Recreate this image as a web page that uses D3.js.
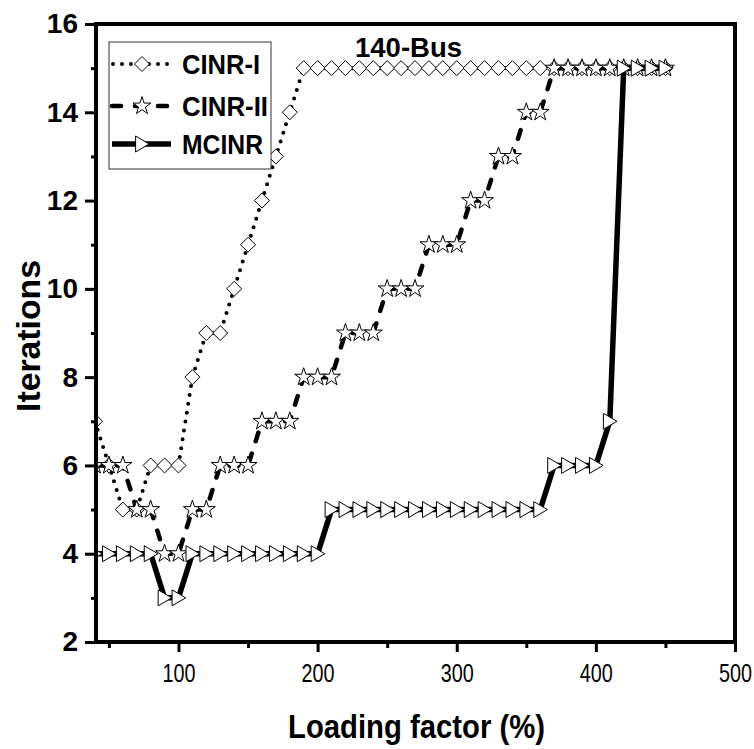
<!DOCTYPE html>
<html lang="en">
<head>
    <meta charset="utf-8">
    <title>140-Bus iterations</title>
    <script type="text/javascript" src="https://d3js.org/d3.v7.min.js"></script>
    <style>
        body { margin: 0; background: white; }
        text { font-family: "Liberation Sans", Arial, sans-serif; }
    </style>
</head>
<body>
    <div id="chart"></div>
    <script type="text/javascript">
        // loading factor (%) values
        const loading = [40, 50, 60, 70, 80, 90, 100, 110, 120, 130, 140, 150, 160, 170, 180, 190, 200,
            210, 220, 230, 240, 250, 260, 270, 280, 290, 300, 310, 320, 330, 340, 350, 360,
            370, 380, 390, 400, 410, 420, 430, 440, 450];
        const cinr1 = [7, 6, 5, 5, 6, 6, 6, 8, 9, 9, 10, 11, 12, 13, 14, 15, 15,
            15, 15, 15, 15, 15, 15, 15, 15, 15, 15, 15, 15, 15, 15, 15, 15,
            15, 15, 15, 15, 15, 15, 15, 15, 15];
        const cinr2 = [6, 6, 6, 5, 5, 4, 4, 5, 5, 6, 6, 6, 7, 7, 7, 8, 8,
            8, 9, 9, 9, 10, 10, 10, 11, 11, 11, 12, 12, 13, 13, 14, 14,
            15, 15, 15, 15, 15, 15, 15, 15, 15];
        const mcinr = [4, 4, 4, 4, 4, 3, 3, 4, 4, 4, 4, 4, 4, 4, 4, 4, 4,
            5, 5, 5, 5, 5, 5, 5, 5, 5, 5, 5, 5, 5, 5, 5, 5,
            6, 6, 6, 6, 7, 15, 15, 15, 15];
        const seriesNames = ["CINR-I", "CINR-II", "MCINR"];
        const xTicks = [100, 200, 300, 400, 500];
        const xMinor = [50, 150, 250, 350, 450];
        const yTicks = [2, 4, 6, 8, 10, 12, 14, 16];
        const yMinor = [3, 5, 7, 9, 11, 13, 15];

        const width = 754, height = 749;
        const mLeft = 96, mRight = 735, mTop = 24, mBottom = 642;

        const svg = d3.select("#chart").append("svg")
            .attr("width", width).attr("height", height);

        const x = d3.scaleLinear().domain([40, 500]).range([mLeft - 1, mRight]);
        const y = d3.scaleLinear().domain([2, 16]).range([mBottom, mTop]);

        svg.append("clipPath").attr("id", "plot-clip")
            .append("rect")
            .attr("x", mLeft).attr("y", mTop - 10)
            .attr("width", mRight - mLeft).attr("height", mBottom - mTop + 10);

        // marker shapes
        const diamond = s => `M0,${-s}L${s},0L0,${s}L${-s},0Z`;
        const tri = s => `M${-s * 0.8},${-s}L${s * 0.9},0L${-s * 0.8},${s}Z`;
        const star = d3.symbol().type(d3.symbolStar).size(100)();

        const styles = [
            { data: cinr1, width: 4, dash: "0,9", cap: "round", marker: diamond(7.5) },
            { data: cinr2, width: 4.5, dash: "9,13", cap: "round", marker: star },
            { data: mcinr, width: 5.5, dash: null, cap: "butt", marker: tri(8) }
        ];

        const plot = svg.append("g").attr("clip-path", "url(#plot-clip)");

        const line = d3.line().x((d, i) => x(loading[i])).y(d => y(d));

        styles.forEach(s => {
            plot.append("path")
                .attr("d", line(s.data))
                .attr("fill", "none")
                .attr("stroke", "black")
                .attr("stroke-width", s.width)
                .attr("stroke-linecap", s.cap)
                .attr("stroke-dasharray", s.dash);
            plot.append("g").selectAll("path")
                .data(s.data)
                .join("path")
                .attr("transform", (d, i) => `translate(${x(loading[i])},${y(d)})`)
                .attr("d", s.marker)
                .attr("fill", "white")
                .attr("stroke", "black")
                .attr("stroke-width", 1);
        });

        // axes
        const xAxis = svg.append("g").attr("transform", `translate(0,${mBottom})`)
            .call(d3.axisBottom(x).tickValues(xTicks).tickSize(10).tickPadding(12));
        svg.append("g").attr("transform", `translate(0,${mBottom})`)
            .call(d3.axisBottom(x).tickValues(xMinor).tickSize(6).tickFormat(""))
            .call(g => g.select(".domain").remove());
        xAxis.select(".domain").remove();
        xAxis.selectAll("text")
            .attr("font-size", 25)
            .attr("textLength", 33).attr("lengthAdjust", "spacingAndGlyphs")
            .attr("font-family", "Liberation Sans, sans-serif");

        const yAxis = svg.append("g").attr("transform", `translate(${mLeft},0)`)
            .call(d3.axisLeft(y).tickValues(yTicks).tickSize(11).tickPadding(7));
        svg.append("g").attr("transform", `translate(${mLeft},0)`)
            .call(d3.axisLeft(y).tickValues(yMinor).tickSize(5).tickFormat(""))
            .call(g => g.select(".domain").remove());
        yAxis.select(".domain").remove();
        yAxis.selectAll("text").attr("font-size", 28).attr("font-weight", "bold")
            .attr("font-family", "Liberation Sans, sans-serif");
        svg.selectAll(".tick line").attr("stroke-width", 3);

        // frame
        svg.append("rect")
            .attr("x", mLeft).attr("y", mTop)
            .attr("width", mRight - mLeft).attr("height", mBottom - mTop)
            .attr("fill", "none").attr("stroke", "black").attr("stroke-width", 4);

        // titles
        svg.append("text")
            .attr("x", 288).attr("y", 738)
            .attr("font-size", 34).attr("font-weight", "bold")
            .attr("textLength", 257).attr("lengthAdjust", "spacingAndGlyphs")
            .text("Loading factor (%)");
        svg.append("text")
            .attr("transform", `translate(40,412) rotate(-90)`)
            .attr("font-size", 34).attr("font-weight", "bold")
            .attr("textLength", 152).attr("lengthAdjust", "spacingAndGlyphs")
            .text("Iterations");
        svg.append("text")
            .attr("x", 355).attr("y", 57)
            .attr("font-size", 28).attr("font-weight", "bold")
            .attr("textLength", 107).attr("lengthAdjust", "spacingAndGlyphs")
            .text("140-Bus");

        // legend
        const legend = svg.append("g");
        legend.append("rect")
            .attr("x", 109).attr("y", 42).attr("width", 162).attr("height", 127)
            .attr("fill", "white").attr("stroke", "#333").attr("stroke-width", 1);
        const rows = [64, 106, 144];
        const legendLen = [78, 86, 81];
        styles.forEach((s, i) => {
            const g = legend.append("g").attr("transform", `translate(0,${rows[i]})`);
            g.append("line")
                .attr("x1", i === 0 ? 113 : 112).attr("x2", 171)
                .attr("stroke", "black")
                .attr("stroke-width", s.width)
                .attr("stroke-linecap", s.cap)
                .attr("stroke-dasharray", i === 1 ? "9,14" : s.dash);
            g.append("path")
                .attr("transform", "translate(142,0)")
                .attr("d", s.marker)
                .attr("fill", "white").attr("stroke", "black").attr("stroke-width", 1);
            g.append("text")
                .attr("x", 182).attr("y", 10)
                .attr("font-size", 28).attr("font-weight", "bold")
                .attr("textLength", legendLen[i]).attr("lengthAdjust", "spacingAndGlyphs")
                .text(seriesNames[i]);
        });
    </script>
</body>
</html>
